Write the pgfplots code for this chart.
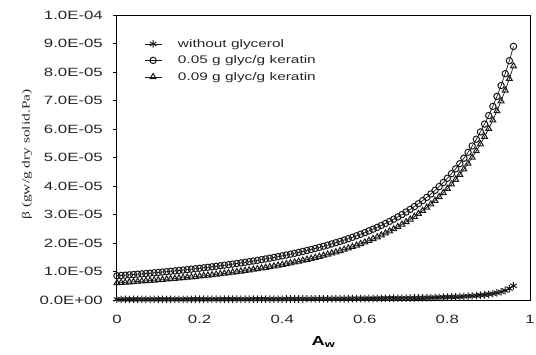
\documentclass[border=0pt]{standalone}
\usepackage{pgfplots}
\usepackage{pgfplotstable}
\pgfplotsset{compat=1.18}
\usepackage{fontspec}
\setmainfont{Liberation Sans}[FakeStretch=1.4]
\newfontfamily\labelfont{Liberation Serif}[FakeStretch=1.4]
\pgfplotstableread{
x w u l
0.00 0.0200 0.8500 0.6000
0.01 0.0202 0.8606 0.6092
0.02 0.0204 0.8715 0.6187
0.03 0.0206 0.8825 0.6283
0.04 0.0208 0.8938 0.6382
0.05 0.0211 0.9054 0.6483
0.06 0.0213 0.9172 0.6587
0.07 0.0215 0.9292 0.6693
0.08 0.0217 0.9415 0.6802
0.09 0.0220 0.9541 0.6913
0.10 0.0222 0.9670 0.7028
0.11 0.0225 0.9802 0.7145
0.12 0.0227 0.9937 0.7265
0.13 0.0230 1.0075 0.7388
0.14 0.0233 1.0216 0.7514
0.15 0.0235 1.0360 0.7643
0.16 0.0238 1.0508 0.7776
0.17 0.0241 1.0659 0.7913
0.18 0.0244 1.0814 0.8052
0.19 0.0247 1.0973 0.8196
0.20 0.0250 1.1136 0.8344
0.21 0.0253 1.1303 0.8495
0.22 0.0256 1.1474 0.8651
0.23 0.0260 1.1649 0.8811
0.24 0.0263 1.1829 0.8976
0.25 0.0267 1.2014 0.9145
0.26 0.0270 1.2204 0.9319
0.27 0.0274 1.2398 0.9498
0.28 0.0278 1.2598 0.9682
0.29 0.0282 1.2803 0.9872
0.30 0.0286 1.3014 1.0067
0.31 0.0290 1.3230 1.0269
0.32 0.0294 1.3453 1.0476
0.33 0.0299 1.3682 1.0690
0.34 0.0303 1.3918 1.0910
0.35 0.0308 1.4160 1.1137
0.36 0.0313 1.4409 1.1371
0.37 0.0317 1.4667 1.1613
0.38 0.0323 1.4931 1.1862
0.39 0.0328 1.5204 1.2120
0.40 0.0333 1.5485 1.2386
0.41 0.0339 1.5775 1.2661
0.42 0.0345 1.6074 1.2945
0.43 0.0351 1.6383 1.3239
0.44 0.0357 1.6702 1.3543
0.45 0.0364 1.7031 1.3858
0.46 0.0370 1.7371 1.4184
0.47 0.0377 1.7722 1.4521
0.48 0.0385 1.8086 1.4871
0.49 0.0392 1.8462 1.5233
0.50 0.0400 1.8852 1.5609
0.51 0.0408 1.9255 1.5999
0.52 0.0417 1.9673 1.6403
0.53 0.0426 2.0106 1.6823
0.54 0.0435 2.0556 1.7260
0.55 0.0444 2.1022 1.7714
0.56 0.0455 2.1506 1.8185
0.57 0.0465 2.2010 1.8676
0.58 0.0476 2.2533 1.9188
0.59 0.0488 2.3076 1.9720
0.60 0.0500 2.3643 2.0275
0.61 0.0513 2.4233 2.0853
0.62 0.0526 2.4848 2.1457
0.63 0.0541 2.5490 2.2087
0.64 0.0556 2.6159 2.2746
0.65 0.0571 2.6858 2.3434
0.66 0.0588 2.7589 2.4154
0.67 0.0606 2.8354 2.4908
0.68 0.0625 2.9156 2.5698
0.69 0.0645 2.9994 2.6525
0.70 0.0667 3.0874 2.7394
0.71 0.0690 3.1798 2.8306
0.72 0.0714 3.2769 2.9264
0.73 0.0741 3.3792 3.0272
0.74 0.0769 3.4868 3.1333
0.75 0.0800 3.6002 3.2450
0.76 0.0833 3.7199 3.3628
0.77 0.0870 3.8463 3.4871
0.78 0.0909 3.9801 3.6186
0.79 0.0952 4.1220 3.7575
0.80 0.1000 4.2724 3.9046
0.81 0.1053 4.4322 4.0605
0.82 0.1111 4.6021 4.2260
0.83 0.1176 4.7833 4.4018
0.84 0.1250 4.9766 4.5888
0.85 0.1333 5.1832 4.7878
0.86 0.1429 5.4047 5.0004
0.87 0.1538 5.6422 5.2271
0.88 0.1667 5.8979 5.4699
0.89 0.1818 6.1733 5.7296
0.90 0.2000 6.4713 6.0084
0.91 0.2222 6.7935 6.3085
0.92 0.2500 7.1435 6.6313
0.93 0.2857 7.5248 6.9793
0.94 0.3333 7.9410 7.3557
0.95 0.4000 8.3967 7.7640
0.96 0.5000 8.8987 8.2060
}\datatable
\begin{document}
\begin{tikzpicture}
\useasboundingbox (-117pt,-54pt) rectangle (419pt,300pt);
\begin{axis}[
  at={(0,0)}, anchor=south west,
  scale only axis, width=413pt, height=285pt,
  xmin=0, xmax=1, ymin=0, ymax=10,
  xtick={0,0.2,0.4,0.6,0.8,1},
  xticklabels={0,0.2,0.4,0.6,0.8,1},
  ytick={0,1,...,10},
  yticklabels={0.0E+00,1.0E-05,2.0E-05,3.0E-05,4.0E-05,5.0E-05,6.0E-05,7.0E-05,8.0E-05,9.0E-05,1.0E-04},
  xtick style={draw=none},
  ytick pos=left, ytick align=outside,
  major tick length=4pt,
  tick style={black, line width=0.8pt},
  axis line style={black, line width=1pt},
  ticklabel style={font=\fontsize{12}{14}\selectfont, black!85},
  xticklabel style={anchor=center, yshift=-19pt},
  yticklabel style={anchor=east, inner sep=0pt, xshift=-10pt},
  xlabel={\textbf{A\textsubscript{w}}},
  xlabel style={at={(rel axis cs:0.5,0)}, anchor=center, yshift=-42pt, font=\fontsize{13}{15}\selectfont},
  ylabel={\labelfont β (gw/g dry solid.Pa)},
  ylabel style={at={(rel axis cs:0,0.5)}, anchor=center, rotate=0, yshift=90pt, xshift=3pt, font=\fontsize{11}{13}\selectfont, black!85},
  legend style={draw=none, fill=none, at={(rel axis cs:0,1)}, anchor=north west,
    xshift=24pt, yshift=-20pt, font=\fontsize{11}{12}\selectfont, row sep=3pt, column sep=14pt,
    nodes={inner sep=2pt, black!85}},
  legend cell align=left,
  every axis plot/.append style={black!90, line width=0.7pt},
]
\addplot[mark=asterisk, mark size=3.8pt, mark options={line width=1pt}] table[x=x,y=w] {\datatable};
\addlegendentry{without glycerol}
\addplot[mark=o, mark size=3.2pt, mark options={line width=1pt}] table[x=x,y=u] {\datatable};
\addlegendentry{0.05 g glyc/g keratin}
\addplot[mark=triangle, mark size=3.4pt, mark options={line width=1pt}] table[x=x,y=l] {\datatable};
\addlegendentry{0.09 g glyc/g keratin}
\end{axis}
\end{tikzpicture}
\end{document}
